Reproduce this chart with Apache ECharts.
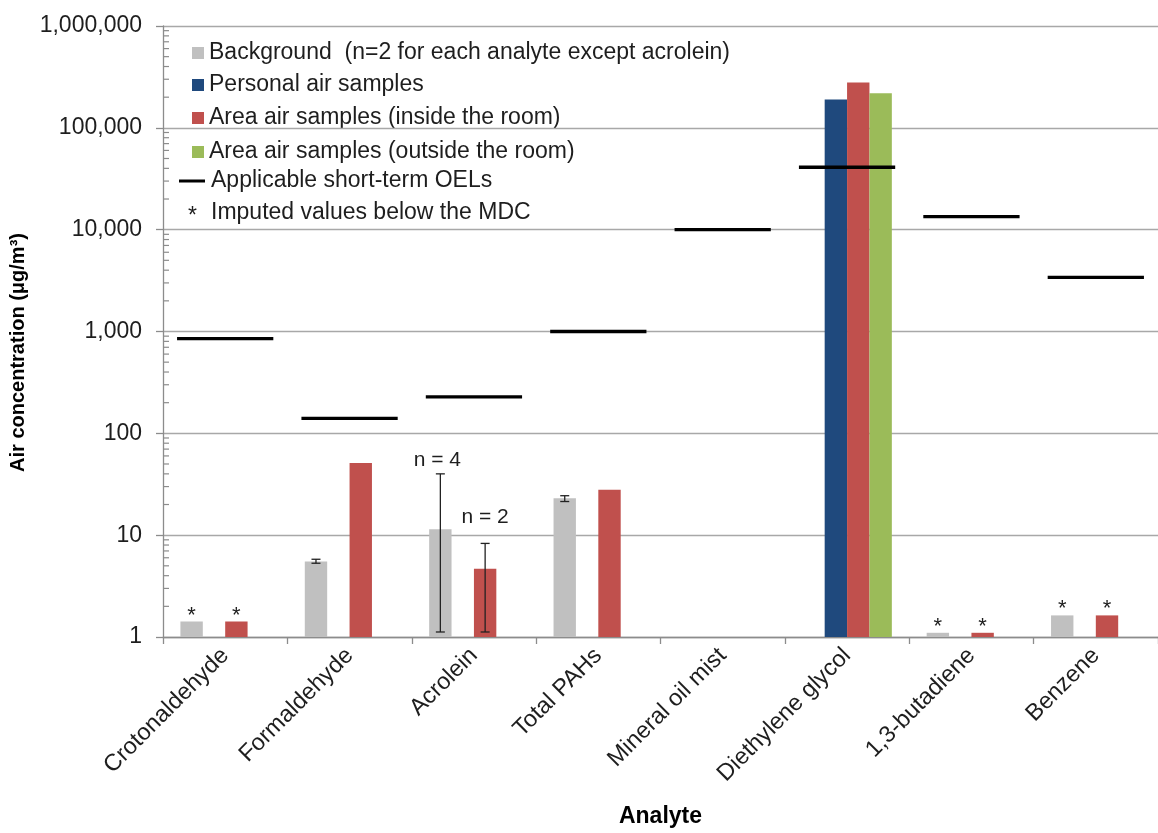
<!DOCTYPE html>
<html><head><meta charset="utf-8">
<script src="https://cdn.jsdelivr.net/npm/echarts@6/dist/echarts.min.js"></script>
<style>html,body{margin:0;padding:0;background:#fff}#c{width:1158px;height:833px}</style>
</head><body><div id="c"></div>
<script>
// ---- data ----
const categories = ['Crotonaldehyde','Formaldehyde','Acrolein','Total PAHs','Mineral oil mist','Diethylene glycol','1,3-butadiene','Benzene'];
const background  = [1.42, 5.5, 11.4, 23, null, null, 1.1, 1.63];
const personal    = [null, null, null, null, null, 190000, null, null];
const areaInside  = [1.42, 51, 4.67, 28, null, 279000, 1.1, 1.63];
const areaOutside = [null, null, null, null, null, 219000, null, null];
const oel         = [850, 140, 228, 1000, 10000, 41000, 13400, 3400];
const backgroundErrLow  = [null, 5.3, 1.12, 21.4, null, null, null, null];
const backgroundErrHigh = [null, 5.8, 40, 24.4, null, null, null, null];
const insideErrLow  = [null, null, 1.12, null, null, null, null, null];
const insideErrHigh = [null, null, 8.3, null, null, null, null, null];
const backgroundImputed = [true, false, false, false, false, false, true, true];
const insideImputed     = [true, false, false, false, false, false, true, true];
const backgroundN = [null, null, 'n = 4', null, null, null, null, null];
const insideN     = [null, null, 'n = 2', null, null, null, null, null];
const seriesNames = ['Background  (n=2 for each analyte except acrolein)','Personal air samples','Area air samples (inside the room)','Area air samples (outside the room)'];
const oelName = 'Applicable short-term OELs';
const imputedNote = 'Imputed values below the MDC';
const yMin = 1, yMax = 1000000;
const minorDecades = [1, 10, 100, 1000, 10000, 100000];
const minorMultipliers = [2, 3, 4, 5, 6, 7, 8, 9];

// ---- style ----
const FONT = "Arial, 'Liberation Sans', sans-serif";
const colors = ['#c0c0c0', '#1f497d', '#c0504d', '#9bbb59'];
const BAR_RATIO = 0.18;
const TEXT = '#1e1e1e';

const chart = echarts.init(document.getElementById('c'), null, {renderer: 'canvas'});

function bandW(api) { return api.coord([1, 1])[0] - api.coord([0, 1])[0]; }

function barData(vals, flags) {
  return vals.map((v, i) => flags && flags[i] && v != null
    ? {value: v, label: {show: true}} : v);
}

function errData(lo, hi) {
  const out = [];
  lo.forEach((l, i) => { if (l != null && hi[i] != null) out.push([i, l, hi[i]]); });
  return out;
}

function errRender(slot, labels, labelGap, labelDx) {
  return function (params, api) {
    const ci = api.value(0);
    const p1 = api.coord([ci, api.value(1)]);
    const p2 = api.coord([ci, api.value(2)]);
    const bw = bandW(api) * BAR_RATIO;
    const x = p1[0] + (slot - 1.5) * bw;
    const cap = 4.5;
    const st = {stroke: '#222', lineWidth: 1.3};
    const ch = [
      {type: 'line', shape: {x1: x, y1: p1[1], x2: x, y2: p2[1]}, style: st},
      {type: 'line', shape: {x1: x - cap, y1: p1[1], x2: x + cap, y2: p1[1]}, style: st},
      {type: 'line', shape: {x1: x - cap, y1: p2[1], x2: x + cap, y2: p2[1]}, style: st}
    ];
    const lab = labels[ci];
    if (lab) ch.push({type: 'text', style: {text: lab, x: x + labelDx, y: p2[1] - labelGap, align: 'center', verticalAlign: 'middle', font: '21px ' + FONT, fill: TEXT}});
    return {type: 'group', children: ch};
  };
}

const minorVals = [];
minorDecades.forEach(d => minorMultipliers.forEach(m => minorVals.push([0, d * m])));

const barLabel = {show: false, position: 'top', distance: -5, formatter: '*', fontSize: 22, color: TEXT, fontFamily: FONT};

// legend drawn as graphic
const legendRows = [
  {y: 53, kind: 'rect', color: colors[0], text: seriesNames[0]},
  {y: 85, kind: 'rect', color: colors[1], text: seriesNames[1]},
  {y: 118, kind: 'rect', color: colors[2], text: seriesNames[2]},
  {y: 152, kind: 'rect', color: colors[3], text: seriesNames[3]},
  {y: 181, kind: 'line', text: oelName},
  {y: 213, kind: 'star', text: imputedNote}
];
const graphic = [];
legendRows.forEach(r => {
  if (r.kind === 'rect') graphic.push({type: 'rect', left: 192, top: r.y - 6, shape: {width: 12, height: 12}, style: {fill: r.color}});
  if (r.kind === 'line') graphic.push({type: 'rect', left: 179, top: r.y - 1.5, shape: {width: 26, height: 3}, style: {fill: '#000'}});
  if (r.kind === 'star') graphic.push({type: 'text', left: 188, top: r.y - 8, style: {text: '*', font: '23px ' + FONT, fill: TEXT}});
  graphic.push({type: 'text', left: r.kind === 'rect' ? 209 : 211, top: r.y - 12, style: {text: r.text, font: '23px ' + FONT, fill: TEXT}});
});

const option = {
  animation: false,
  backgroundColor: '#fff',
  textStyle: {fontFamily: FONT},
  grid: {left: 163, top: 26, width: 1004, height: 621, containLabel: false},
  xAxis: {
    type: 'category', data: categories,
    axisLine: {lineStyle: {color: '#8c8c8c', width: 1.3}},
    axisTick: {show: true, length: 7, lineStyle: {color: '#8c8c8c', width: 1.3}},
    axisLabel: {rotate: 45, fontSize: 23.5, color: TEXT, margin: 15, interval: 0, padding: [10, 0, 0, 0]},
    name: 'Analyte', nameLocation: 'middle', nameGap: 168,
    nameTextStyle: {fontSize: 23, fontWeight: 'bold', color: '#000'}
  },
  yAxis: {
    type: 'log', logBase: 10, min: yMin, max: yMax,
    axisLine: {show: true, lineStyle: {color: '#8c8c8c', width: 1.3}},
    axisTick: {show: true, length: 7, lineStyle: {color: '#8c8c8c', width: 1.3}},
    splitLine: {show: true, lineStyle: {color: '#a8a8a8', width: 1.3}},
    axisLabel: {fontSize: 23, color: TEXT, margin: 21, formatter: v => Math.round(v).toLocaleString('en-US')},
    name: 'Air concentration (μg/m³)', nameLocation: 'middle', nameGap: 127, nameRotate: 90,
    nameTextStyle: {fontSize: 20, fontWeight: 'bold', color: '#000', padding: [0, 42, 0, 0]}
  },
  graphic: graphic,
  series: [
    {name: seriesNames[0], type: 'bar', data: barData(background, backgroundImputed), barWidth: (BAR_RATIO * 100) + '%', barGap: '0%', itemStyle: {color: colors[0]}, label: barLabel},
    {name: seriesNames[1], type: 'bar', data: barData(personal), barWidth: (BAR_RATIO * 100) + '%', barGap: '0%', itemStyle: {color: colors[1]}},
    {name: seriesNames[2], type: 'bar', data: barData(areaInside, insideImputed), barWidth: (BAR_RATIO * 100) + '%', barGap: '0%', itemStyle: {color: colors[2]}, label: barLabel},
    {name: seriesNames[3], type: 'bar', data: barData(areaOutside), barWidth: (BAR_RATIO * 100) + '%', barGap: '0%', itemStyle: {color: colors[3]}},
    {name: oelName, type: 'custom', z: 5, clip: false,
      data: oel.map((v, i) => [i, v]),
      renderItem: function (params, api) {
        const p = api.coord([api.value(0), api.value(1)]);
        const half = bandW(api) * 0.387;
        return {type: 'line', shape: {x1: p[0] - half, y1: p[1], x2: p[0] + half, y2: p[1]}, style: {stroke: '#000', lineWidth: 3.3}};
      }},
    {name: 'bgErr', type: 'custom', z: 6, clip: false, data: errData(backgroundErrLow, backgroundErrHigh), renderItem: errRender(0, backgroundN, 14, -3)},
    {name: 'inErr', type: 'custom', z: 6, clip: false, data: errData(insideErrLow, insideErrHigh), renderItem: errRender(2, insideN, 26, 0)},
    {name: 'minorTicks', type: 'custom', z: 4, clip: false, silent: true, data: minorVals,
      renderItem: function (params, api) {
        const p = api.coord([0, api.value(1)]);
        const x = p[0] - bandW(api) / 2;
        return {type: 'line', shape: {x1: x, y1: p[1], x2: x + 6, y2: p[1]}, style: {stroke: '#8c8c8c', lineWidth: 1.2}};
      }}
  ]
};
chart.setOption(option);
</script>
</body></html>
